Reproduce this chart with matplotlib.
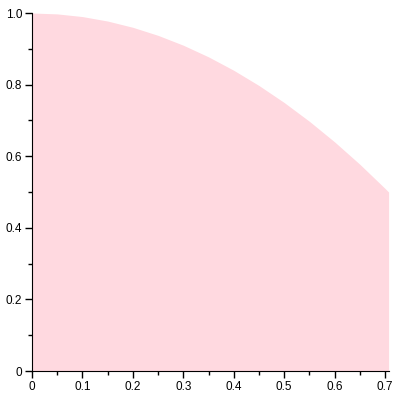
import numpy as np
import matplotlib.pyplot as plt
from matplotlib.ticker import MultipleLocator

# values
x = [0.0, 0.05, 0.1, 0.15, 0.2, 0.25, 0.3, 0.35, 0.4, 0.45, 0.5, 0.55, 0.6, 0.65, 0.7, 0.7071]
y = [1.0, 0.9975, 0.99, 0.9775, 0.96, 0.9375, 0.91, 0.8775, 0.84, 0.7975, 0.75, 0.6975, 0.64, 0.5775, 0.51, 0.5]
xticks = [0, 0.1, 0.2, 0.3, 0.4, 0.5, 0.6, 0.7]
xlabels = ["0", "0.1", "0.2", "0.3", "0.4", "0.5", "0.6", "0.7"]
yticks = [0, 0.2, 0.4, 0.6, 0.8, 1.0]
ylabels = ["0", "0.2", "0.4", "0.6", "0.8", "1.0"]

plt.rcParams['font.family'] = ['Liberation Sans', 'DejaVu Sans']
fig = plt.figure(figsize=(4, 4), dpi=100)
ax = fig.add_axes([0.08, 0.0725, 0.8915, 0.895])
ax.fill_between(x, 0, y, color="#ffd9e0", linewidth=0)
ax.set_xlim(0, 0.7071)
ax.set_ylim(0, 1.0)
ax.set_xticks(xticks)
ax.set_xticklabels(xlabels)
ax.set_yticks(yticks)
ax.set_yticklabels(ylabels)
ax.xaxis.set_minor_locator(MultipleLocator(0.05))
ax.yaxis.set_minor_locator(MultipleLocator(0.1))
for s in ["top", "right"]:
    ax.spines[s].set_visible(False)
ax.tick_params(which="both", direction="out", labelsize=8.5, width=1, pad=2)
ax.tick_params(which="major", length=5)
ax.tick_params(which="minor", length=3)
fig.savefig("out.png")
